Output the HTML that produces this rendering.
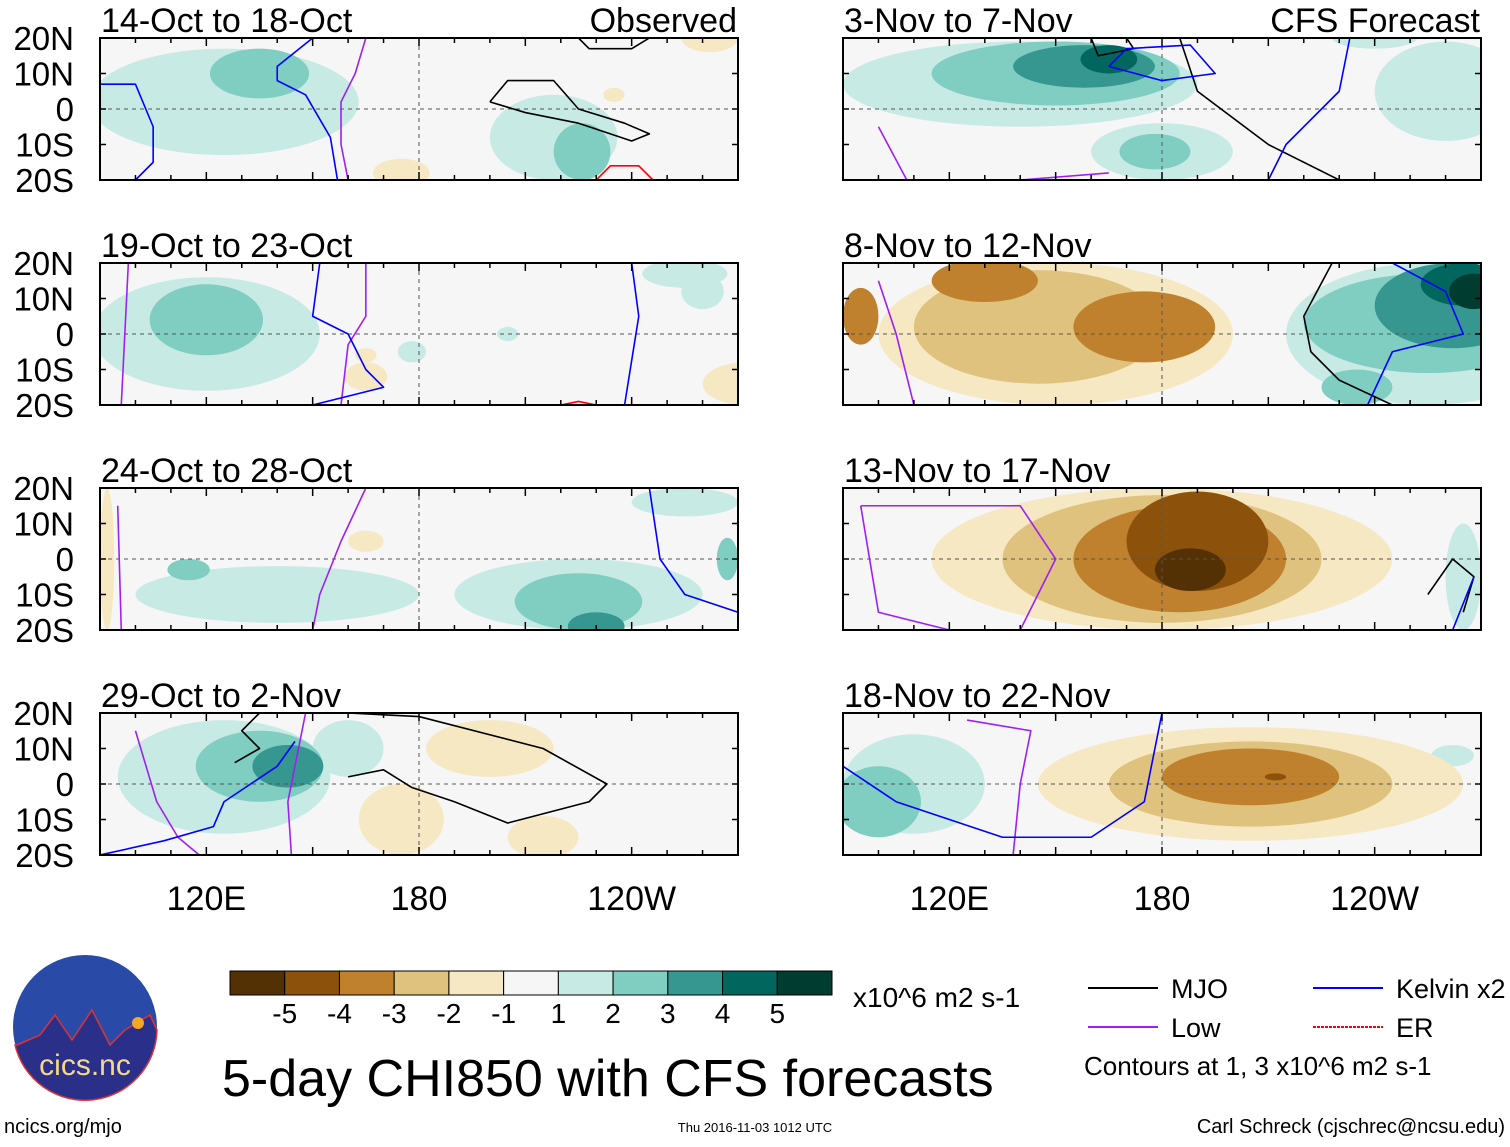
<!DOCTYPE html>
<html><head><meta charset="utf-8"><style>
body{margin:0;background:#fff;width:1510px;height:1142px;overflow:hidden;font-family:"Liberation Sans",sans-serif}
svg text{font-family:"Liberation Sans",sans-serif}
</style></head><body>
<svg id="s" width="1510" height="1142" viewBox="0 0 1510 1142" xmlns="http://www.w3.org/2000/svg"></svg>
<script>
const colors=['#543005','#8c510a','#bf812d','#dfc27d','#f6e8c3','#f6f6f6','#c7eae5','#80cdc1','#35978f','#01665e','#003c30'];
const levelLabels=['-5','-4','-3','-2','-1','1','2','3','4','5'];
const lonTicks=[120,180,240];
const lonTickLabels=['120E','180','120W'];
const latTicks=[20,10,0,-10,-20];
const latTickLabels=['20N','10N','0','10S','20S'];
const panelTitles=['14-Oct to 18-Oct','19-Oct to 23-Oct','24-Oct to 28-Oct','29-Oct to 2-Nov','3-Nov to 7-Nov','8-Nov to 12-Nov','13-Nov to 17-Nov','18-Nov to 22-Nov'];
// anomaly blobs: [lon, lat, rlon, rlat, level]
const blobs=[
[[125,2,38,15,1],[135,10,14,7,2],[218,-8,18,12,1],[226,-12,8,8,2],[175,-18,8,4,-1],[262,20,8,4,-1],[235,4,3,2,-1]],
[[120,0,32,16,1],[120,4,16,10,2],[178,-5,4,3,1],[272,-14,12,6,-1],[255,17,12,4,1],[260,12,6,5,1],[165,-12,6,4,-1],[205,0,3,2,1],[165,-6,3,2,-1]],
[[140,-10,40,8,1],[225,-10,35,10,1],[225,-12,18,8,2],[230,-19,8,4,3],[255,16,15,4,1],[267,0,3,6,2],[165,5,5,3,-1],[92,0,2,20,-1],[115,-3,6,3,2]],
[[125,2,30,16,1],[135,5,18,10,2],[143,5,10,6,3],[160,10,10,8,1],[200,10,18,8,-1],[175,-10,12,10,-1],[215,-15,10,6,-1]],
[[140,7,50,12,1],[150,10,35,9,2],[158,12,20,6,3],[165,14,8,4,4],[180,-12,20,8,1],[178,-12,10,5,2],[260,5,20,14,1],[240,20,12,3,1]],
[[150,0,50,20,-1],[145,2,35,16,-2],[175,2,20,10,-3],[130,15,15,6,-3],[95,5,5,8,-3],[255,0,40,20,1],[255,3,35,14,2],[262,8,22,12,3],[265,14,12,6,4],[268,12,7,5,5],[235,-15,10,5,2]],
[[180,0,65,20,-1],[180,0,45,18,-2],[185,0,30,15,-3],[190,5,20,14,-4],[188,-3,10,6,-5],[265,-5,5,15,1]],
[[110,0,20,14,1],[100,-5,12,10,2],[262,8,6,3,1],[205,0,60,16,-1],[205,0,40,12,-2],[205,2,25,8,-3],[212,2,3,1,-4]]
];
// contour lines: [color, points]
const lines=[
[['k',[[200,2],[205,8],[218,8],[225,0],[238,-4],[245,-7],[240,-9],[225,-4],[210,-1],[200,2]]],['k',[[225,20],[228,17],[240,17],[245,20]]],['p',[[165,20],[162,10],[158,2],[158,-10],[160,-20]]],['b',[[150,20],[140,12],[140,8],[148,4],[155,-8],[157,-20]]],['b',[[90,7],[100,7],[105,-5],[105,-15],[100,-20]]],['r',[[230,-20],[234,-16],[242,-16],[246,-20]]]],
[['p',[[98,20],[97,0],[96,-20]]],['p',[[165,20],[165,5],[160,-3],[158,-20]]],['b',[[152,20],[150,5],[160,0],[165,-10],[170,-15],[150,-20]]],['b',[[240,20],[242,5],[238,-20]]],['r',[[220,-20],[225,-19],[230,-20]]]],
[['p',[[165,20],[158,5],[152,-10],[150,-20]]],['b',[[245,20],[248,0],[255,-10],[270,-15]]],['p',[[95,15],[96,-20]]]],
[['k',[[128,6],[135,10],[130,15],[135,20]]],['k',[[160,20],[180,19],[215,10],[233,0],[228,-5],[205,-11],[190,-5],[178,-1],[170,4],[160,2]]],['p',[[100,15],[106,-5],[112,-15],[118,-20]]],['p',[[148,20],[145,5],[143,-5],[144,-20]]],['b',[[90,-20],[108,-16],[122,-12],[125,-5],[140,5],[145,12]]]],
[['k',[[185,20],[190,5],[210,-10],[230,-20]]],['k',[[160,20],[162,15],[172,17],[170,20]]],['b',[[165,12],[170,17],[188,18],[195,10],[180,8],[165,12]]],['p',[[100,-5],[108,-20]]],['p',[[165,-18],[140,-20]]],['b',[[210,-20],[215,-10],[230,5],[233,20]]]],
[['k',[[228,20],[220,5],[222,-5],[230,-13],[245,-20]]],['b',[[245,20],[260,12],[265,0],[245,-5],[238,-20]]],['p',[[100,15],[105,0],[110,-20]]]],
[['k',[[255,-10],[262,0],[268,-5],[265,-15]]],['p',[[95,15],[100,-15],[120,-20]]],['p',[[95,15],[140,15],[150,0],[140,-20]]],['b',[[268,-5],[262,-20]]]],
[['p',[[125,18],[143,15],[140,0],[138,-20]]],['b',[[180,20],[175,-5],[160,-15],[135,-15],[105,-5],[90,5]]]]
];
const lc={k:'#000',p:'#a020f0',b:'#0000ff',r:'#ff0000'};
const S=document.getElementById('s');const NS='http://www.w3.org/2000/svg';
function mk(t,a,p){const e=document.createElementNS(NS,t);for(const k in a)e.setAttribute(k,a[k]);(p||S).appendChild(e);return e;}
const W=638,H=142;
for(let i=0;i<8;i++){
  const px=i<4?100:843, py=38+225*(i%4);
  const xs=lon=>px+(lon-90)*W/180, ys=lat=>py+(20-lat)*H/40;
  const g=mk('g',{});
  
  
  const cp=mk('clipPath',{id:'c'+i},g);mk('rect',{x:px,y:py,width:W,height:H},cp);
  mk('rect',{x:px,y:py,width:W,height:H,fill:colors[5]},g);
  const inner=mk('g',{'clip-path':'url(#c'+i+')'},g);
  blobs[i].slice().sort((a,b)=>Math.abs(a[4])-Math.abs(b[4])).forEach(b=>{
    const e=mk('ellipse',{cx:xs(b[0]),cy:ys(b[1]),rx:b[2]*W/180,ry:b[3]*H/40,fill:colors[5+b[4]]},inner);
    
    
  });
  mk('line',{x1:px,x2:px+W,y1:ys(0),y2:ys(0),stroke:'#555','stroke-dasharray':'4,4'},inner);
  mk('line',{x1:xs(180),x2:xs(180),y1:py,y2:py+H,stroke:'#555','stroke-dasharray':'4,4'},inner);
  lines[i].forEach(l=>{
    const e=mk('polyline',{points:l[1].map(p=>xs(p[0])+','+ys(p[1])).join(' '),fill:'none',stroke:lc[l[0]],'stroke-width':1.6,'stroke-linejoin':'round'},inner);
    
    
  });
  mk('rect',{x:px,y:py,width:W,height:H,fill:'none',stroke:'#000','stroke-width':2},g);
  for(let lon=90;lon<=270;lon+=10){const L=lon%30==0?8:5;mk('line',{x1:xs(lon),x2:xs(lon),y1:py,y2:py+L,stroke:'#000','stroke-width':1.5},g);mk('line',{x1:xs(lon),x2:xs(lon),y1:py+H,y2:py+H-L,stroke:'#000','stroke-width':1.5},g);}
  latTicks.forEach(lt=>{mk('line',{x1:px,x2:px+6,y1:ys(lt),y2:ys(lt),stroke:'#000','stroke-width':1.5},g);mk('line',{x1:px+W,x2:px+W-6,y1:ys(lt),y2:ys(lt),stroke:'#000','stroke-width':1.5},g);});
  const t=mk('text',{x:px+1,y:py-6,'font-size':34},g);t.textContent=panelTitles[i];
  
  if(i%4==0){const t2=mk('text',{x:px+W-1,y:py-6,'font-size':34,'text-anchor':'end'},g);t2.textContent=i==0?'Observed':'CFS Forecast';
    }
  if(i<4){latTicks.forEach((lt,k)=>{const e=mk('text',{x:74,y:ys(lt)+12,'font-size':33,'text-anchor':'end'},g);e.textContent=latTickLabels[k];
    });}
  if(i%4==3){lonTicks.forEach((ln,k)=>{const e=mk('text',{x:xs(ln),y:910,'font-size':34,'text-anchor':'middle'},g);e.textContent=lonTickLabels[k];
    });}
}
// colorbar
const cb=mk('g',{});
const bw=602/11;
colors.forEach((c,k)=>mk('rect',{x:230+k*bw,y:971,width:bw,height:24,fill:c,stroke:'#000','stroke-width':1},cb));
levelLabels.forEach((l,k)=>{const e=mk('text',{x:230+(k+1)*bw,y:1023,'font-size':28,'text-anchor':'middle'},cb);e.textContent=l;});
function txt(x,y,s,str,name,anchor){const e=mk('text',{x:x,y:y,'font-size':s,'text-anchor':anchor||'start'});e.textContent=str;return e;}
txt(853,1007,28,'x10^6 m2 s-1','colorbar-units');
txt(222,1096,52,'5-day CHI850 with CFS forecasts','figure-title');
// legend
[[1088,988,'#000','MJO'],[1088,1027,'#a020f0','Low'],[1313,988,'#0000ff','Kelvin x2'],[1313,1027,'#ff0000','ER']].forEach(l=>{
  const g=mk('g',{});
  mk('line',{x1:l[0],x2:l[0]+70,y1:l[1],y2:l[1],stroke:l[2],'stroke-width':2,'stroke-dasharray':l[3]=='ER'?'3,1':''},g);
  const t=mk('text',{x:l[0]+83,y:l[1]+10,'font-size':27},g);t.textContent=l[3];});
txt(1084,1075,26,'Contours at 1, 3 x10^6 m2 s-1','contour-note');
txt(4,1133,20,'ncics.org/mjo','site-link');
txt(755,1132,13,'Thu 2016-11-03 1012 UTC','timestamp','middle');
txt(1505,1133,20,'Carl Schreck (cjschrec@ncsu.edu)','author','end');
// logo
const lg=mk('g',{});
mk('circle',{cx:85,cy:1027,r:72,fill:'#2a4aa8'},lg);
mk('path',{d:'M17 1045 L40 1035 L55 1015 L72 1040 L92 1010 L110 1045 L125 1030 L150 1015 L157 1030 A72 72 0 0 1 15 1045Z',fill:'#2a2f8a',stroke:'#d33','stroke-width':1.5},lg);
mk('circle',{cx:138,cy:1023,r:6,fill:'#f5a623'},lg);
const lt=mk('text',{x:85,y:1075,'font-size':30,'text-anchor':'middle',fill:'#f5d98a'},lg);lt.textContent='cics.nc';
</script>
</body></html>
